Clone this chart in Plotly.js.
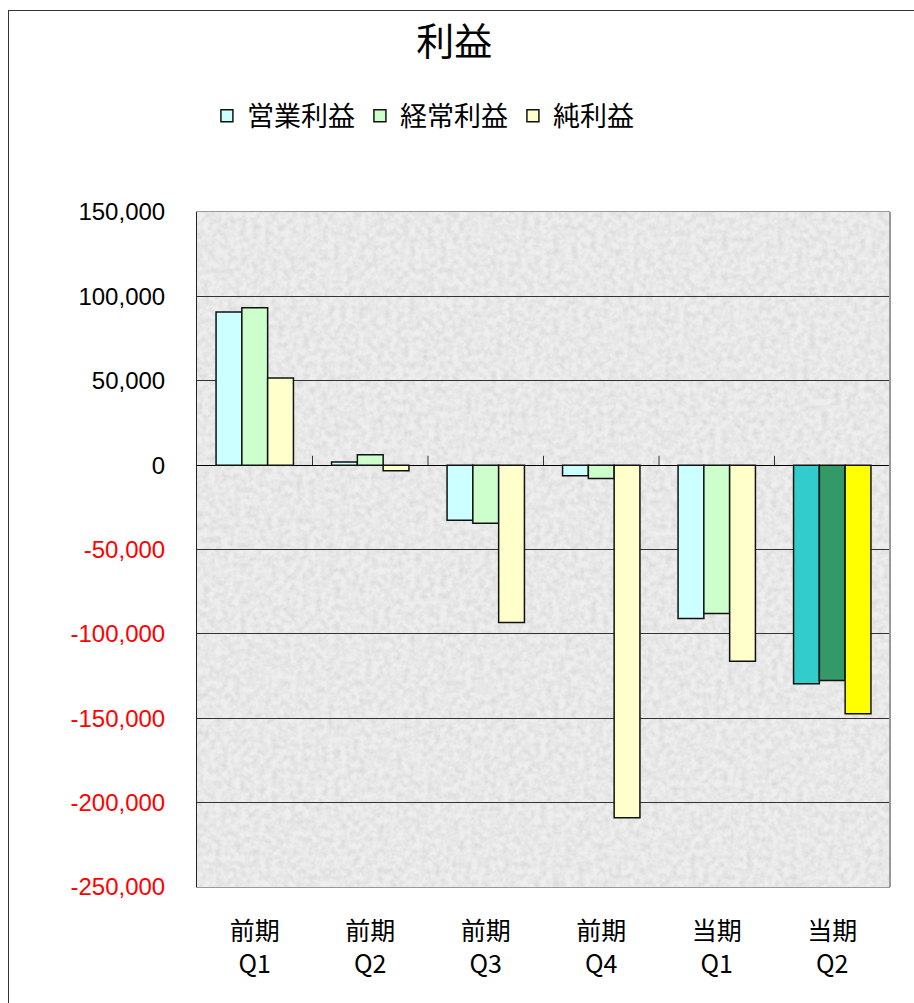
<!DOCTYPE html>
<html>
<head>
<meta charset="utf-8">
<script src="https://cdn.plot.ly/plotly-3.0.1.min.js"></script>
<style>
  html, body { margin: 0; padding: 0; background: #ffffff; }
  #chart { width: 914px; height: 1003px; position: relative; }
  #frame {
    position: absolute; left: 8px; top: 10px; width: 920px; height: 1000px;
    border-left: 1px solid #333; border-top: 1px solid #333;
    pointer-events: none; box-sizing: border-box;
  }
</style>
</head>
<body>
<div id="chart"></div>
<div id="frame"></div>
<script>
// Quarterly profit figures
const periods = ['前期<br>Q1', '前期<br>Q2', '前期<br>Q3', '前期<br>Q4', '当期<br>Q1', '当期<br>Q2'];
const operatingProfit = [90700, 1800, -32700, -6300, -90900, -129500];
const ordinaryProfit  = [93300, 6100, -34500, -7900, -87900, -127700];
const netProfit       = [51700, -3300, -93300, -208900, -116200, -147300];

const seriesNames = ['営業利益', '経常利益', '純利益'];
// past periods in pale tones, current quarter highlighted
const paleColors   = ['#CCFFFF', '#CCFFCC', '#FFFFCC'];
const strongColors = ['#33CCCC', '#339966', '#FFFF00'];

const yTicks = [150000, 100000, 50000, 0, -50000, -100000, -150000, -200000, -250000];

function fmt(v) {
  const s = Math.abs(v).toLocaleString('en-US');
  return v < 0 ? '<span style="color:#FF0000">-' + s + '</span>' : s;
}

// grey marble-like fill for the plotting area
const marble =
  '<svg xmlns="http://www.w3.org/2000/svg" width="693" height="675">' +
  '<filter id="n"><feTurbulence type="fractalNoise" baseFrequency="0.16" numOctaves="3" seed="4"/>' +
  '<feColorMatrix type="matrix" values="0 0 0 0 0.6  0 0 0 0 0.6  0 0 0 0 0.6  0 0 0 1.0 -0.32"/></filter>' +
  '<rect width="100%" height="100%" fill="#eeeeee"/>' +
  '<rect width="100%" height="100%" filter="url(#n)"/></svg>';
const marbleURI = 'data:image/svg+xml;charset=utf-8,' + encodeURIComponent(marble);

const seriesValues = [operatingProfit, ordinaryProfit, netProfit];
const traces = seriesValues.map((vals, k) => ({
  type: 'bar',
  name: seriesNames[k],
  x: periods,
  y: vals,
  marker: {
    color: vals.map((_, i) => i === vals.length - 1 ? strongColors[k] : paleColors[k]),
    line: { color: '#111111', width: 1.5 }
  },
  hoverinfo: 'skip'
}));

// category separators standing on the zero line
const sepShapes = periods.slice(1).map((_, i) => ({
  type: 'line', xref: 'x', yref: 'y',
  x0: i + 0.5, x1: i + 0.5, y0: 0, y1: 5500,
  line: { color: '#333', width: 1 }
}));

const layout = {
  width: 914, height: 1003,
  margin: { l: 197, r: 24, t: 212, b: 116 },
  paper_bgcolor: '#ffffff',
  plot_bgcolor: 'rgba(0,0,0,0)',
  font: { family: '"Noto Sans CJK JP", "Noto Sans", sans-serif', color: '#000' },
  title: {
    text: '利益',
    font: { size: 38, color: '#000' },
    xref: 'container', x: 0.497, xanchor: 'center',
    yref: 'container', y: 0.958, yanchor: 'middle'
  },
  showlegend: true,
  legend: {
    orientation: 'h',
    xref: 'paper', x: 0.326, xanchor: 'center',
    yref: 'paper', y: 1.142, yanchor: 'middle',
    font: { size: 27 },
    traceorder: 'normal',
    itemwidth: 30,
    bgcolor: 'rgba(0,0,0,0)'
  },
  barmode: 'group',
  bargap: 0.33,
  bargroupgap: 0,
  images: [{
    source: marbleURI, xref: 'paper', yref: 'paper',
    x: 0, y: 1, sizex: 1, sizey: 1, sizing: 'stretch',
    xanchor: 'left', yanchor: 'top', layer: 'below'
  }],
  xaxis: {
    type: 'category',
    tickfont: { size: 25 },
    showline: true, linecolor: '#999', linewidth: 1, mirror: true,
    ticks: '', ticklabelstandoff: 22,
    showgrid: false, zeroline: false
  },
  yaxis: {
    range: [-250000, 150000],
    tickvals: yTicks,
    ticktext: yTicks.map(fmt),
    tickfont: { size: 24, family: '"Liberation Sans", Arial, sans-serif' },
    showgrid: true, gridcolor: '#333', gridwidth: 1,
    zeroline: true, zerolinecolor: '#000', zerolinewidth: 1.2,
    showline: true, linecolor: '#222', linewidth: 1,
    ticks: '', ticklabelstandoff: 26
  },
  shapes: sepShapes.concat([
    { type: 'line', xref: 'paper', yref: 'paper', x0: 1, x1: 1, y0: 0, y1: 1,
      line: { color: '#999', width: 2 } }
  ])
};

Plotly.newPlot('chart', traces, layout, { displayModeBar: false, staticPlot: true });
</script>
</body>
</html>
